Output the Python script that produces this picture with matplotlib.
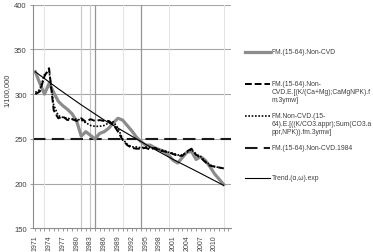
import numpy as np
import matplotlib
matplotlib.use("Agg")
from matplotlib import pyplot as plt
from matplotlib.lines import Line2D

plt.rcParams['font.family'] = ['Liberation Sans', 'DejaVu Sans']

years = list(range(1971, 2013))

# FM.(15-64).Non-CVD
non_cvd = [325, 312, 300, 312, 302, 292, 287, 283, 278, 270,
           253, 258, 254, 250, 256, 258, 262, 268, 273, 271,
           265, 259, 252, 247, 243, 243, 240, 238, 236, 232,
           226, 223, 229, 235, 236, 227, 230, 226, 219, 211,
           205, 199]

# FM.(15-64).Non-CVD.E.[(K/(Ca+Mg);CaMgNPK).fm.3ymw]
non_cvd_e1 = [300, 303, 320, 329, 282, 273, 275, 271, 272, 270,
              273, 269, 272, 270, 271, 270, 270, 266, 258, 249,
              243, 240, 239, 239, 240, 238, 240, 237, 236, 235,
              233, 231, 231, 236, 239, 232, 229, 224, 220, 219,
              218, 217]

# FM.Non-CVD.(15-64).E.[((K/CO3.appr);Sum(CO3.appr,NPK)).fm.3ymw]
non_cvd_e2 = [302, 305, 322, 326, 288, 276, 274, 273, 272, 272,
              271, 268, 265, 264, 264, 265, 268, 269, 262, 250,
              244, 241, 241, 240, 241, 240, 240, 238, 237, 235,
              234, 232, 232, 235, 238, 233, 230, 225, 221, 219,
              218, 217]

# FM.(15-64).Non-CVD.1984
level_1984 = 250

# Trend.(a,w).exp
trend_years = [1971, 1976, 1981, 1986, 1991, 1996, 2001, 2006, 2012]
trend_vals = [325, 306, 288, 271, 256, 241, 227, 214, 198]

# vertical markers
light_lines = [1981, 1983]
dark_lines = [1984, 1994]
faint_lines = [1973, 1990, 2000, 2012]

labels = ["FM.(15-64).Non-CVD",
          "FM.(15-64).Non-\nCVD.E.[(K/(Ca+Mg);CaMgNPK).f\nm.3ymw]",
          "FM.Non-CVD.(15-\n64).E.[((K/CO3.appr);Sum(CO3.a\nppr,NPK)).fm.3ymw]",
          "FM.(15-64).Non-CVD.1984",
          "Trend.(\u03b1,\u03c9).exp"]

W, H = 373, 253
fig = plt.figure(figsize=(W / 100, H / 100), dpi=100)
ax = fig.add_axes([33 / W, 1 - 229.3 / H, 198 / W, (229.3 - 5.7) / H])

# grid
for v in [200, 250, 300, 350, 400]:
    ax.axhline(v, color="#a6a6a6", lw=0.8, zorder=0)
for yr in faint_lines:
    ax.axvline(yr, color="#e4e4e4", lw=0.7, zorder=0)
for yr in light_lines:
    ax.axvline(yr, color="#c8c8c8", lw=0.8, zorder=0)
for yr in dark_lines:
    ax.axvline(yr, color="#969696", lw=0.9, zorder=0)

ax.axhline(level_1984, color="#1a1a1a", lw=1.5, dashes=(6, 3), zorder=2)
ax.plot(years, non_cvd, color="#8c8c8c", lw=2.3, zorder=3)
ax.plot(years, non_cvd_e1, color="#000000", lw=1.4, dashes=(3.5, 1.5), zorder=4)
ax.plot(years, non_cvd_e2, color="#000000", lw=1.2, dashes=(1, 1), zorder=4)
ax.plot(trend_years, trend_vals, color="#000000", lw=0.8, zorder=5)

ax.set_xlim(1970.5, 2013.6)
ax.set_ylim(150, 400)
ax.set_yticks([150, 200, 250, 300, 350, 400])
ax.set_yticklabels(["150", "200", "250", "300", "350", "400"])
ax.set_xticks(years + [2013], minor=True)
tick_years = list(range(1971, 2011, 3))
ax.set_xticks(tick_years)
ax.set_xticklabels([str(y) for y in tick_years], rotation=90)
ax.tick_params(axis="x", which="both", length=2.5, width=0.6, color="#8c8c8c",
               labelsize=5, labelcolor="#404040", pad=2)
ax.tick_params(axis="y", length=2.5, width=0.6, color="#8c8c8c",
               labelsize=5.5, labelcolor="#404040", pad=2)
for s in ["top", "right"]:
    ax.spines[s].set_visible(False)
for s in ["left", "bottom"]:
    ax.spines[s].set_color("#8c8c8c")
    ax.spines[s].set_linewidth(0.8)

ax.set_ylabel("1/100,000", fontsize=5.5, color="#404040")
ax.yaxis.set_label_coords(-0.115, 0.62)

# legend drawn at fixed pixel rows like the original
styles = [dict(color="#8c8c8c", lw=2.3),
          dict(color="#000000", lw=1.4, dashes=(3.5, 1.5)),
          dict(color="#000000", lw=1.2, dashes=(1, 1)),
          dict(color="#1a1a1a", lw=1.5, dashes=(6, 3)),
          dict(color="#000000", lw=0.8)]
rows = [53, 85, 117, 149, 179]
for lab, st, ypx in zip(labels, styles, rows):
    y = 1 - ypx / H
    fig.add_artist(Line2D([245 / W, 270 / W], [y, y], transform=fig.transFigure, **st))
    fig.text(272 / W, y + 3.5 / H, lab, fontsize=4.9, color="#404040", va="top",
             ha="left", linespacing=1.2, transform=fig.transFigure)

fig.savefig("out.png", dpi=100, facecolor="white")
